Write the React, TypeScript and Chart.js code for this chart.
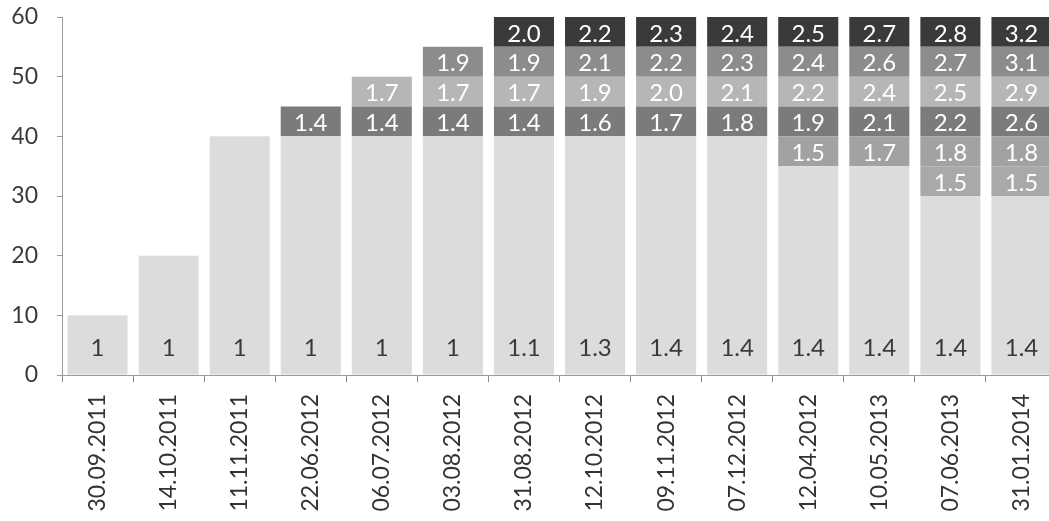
import React, { useEffect, useRef } from "react";
import { Chart, registerables } from "chart.js";

Chart.register(...registerables);

const categories = [
  "30.09.2011", "14.10.2011", "11.11.2011", "22.06.2012", "06.07.2012", "03.08.2012", "31.08.2012",
  "12.10.2012", "09.11.2012", "07.12.2012", "12.04.2012", "10.05.2013", "07.06.2013", "31.01.2014",
];

const baseHeight = [10, 20, 40, 40, 40, 40, 40, 40, 40, 40, 35, 35, 30, 30];
const baseLabel = ["1", "1", "1", "1", "1", "1", "1.1", "1.3", "1.4", "1.4", "1.4", "1.4", "1.4", "1.4"];

const band30Label = [null, null, null, null, null, null, null, null, null, null, null, null, "1.5", "1.5"];
const band35Label = [null, null, null, null, null, null, null, null, null, null, "1.5", "1.7", "1.8", "1.8"];
const band40Label = [null, null, null, "1.4", "1.4", "1.4", "1.4", "1.6", "1.7", "1.8", "1.9", "2.1", "2.2", "2.6"];
const band45Label = [null, null, null, null, "1.7", "1.7", "1.7", "1.9", "2.0", "2.1", "2.2", "2.4", "2.5", "2.9"];
const band50Label = [null, null, null, null, null, "1.9", "1.9", "2.1", "2.2", "2.3", "2.4", "2.6", "2.7", "3.1"];
const band55Label = [null, null, null, null, null, null, "2.0", "2.2", "2.3", "2.4", "2.5", "2.7", "2.8", "3.2"];

const bandHeight = 5;
const yTicks = [0, 10, 20, 30, 40, 50, 60];

const FONT = "Lato, 'Open Sans', sans-serif";

const bands = [
  { labels: band30Label, color: "#a9a9a9" },
  { labels: band35Label, color: "#a2a2a2" },
  { labels: band40Label, color: "#7b7b7b" },
  { labels: band45Label, color: "#b6b6b6" },
  { labels: band50Label, color: "#8c8c8c" },
  { labels: band55Label, color: "#3a3a3a" },
];

const labelPlugin = {
  id: "segLabels",
  afterDatasetsDraw(chart: any) {
    const ctx = chart.ctx;
    const y = chart.scales.y;
    ctx.save();
    ctx.font = `24px ${FONT}`;
    ctx.textAlign = "center";
    ctx.textBaseline = "middle";
    chart.data.datasets.forEach((ds: any, di: number) => {
      const meta = chart.getDatasetMeta(di);
      meta.data.forEach((el: any, i: number) => {
        const lab = ds.segLabels[i];
        if (lab == null || ds.data[i] == null) return;
        if (di === 0) {
          ctx.fillStyle = "#3a3a3a";
          ctx.fillText(lab, el.x, y.getPixelForValue(5) + 3);
        } else {
          ctx.fillStyle = "#ffffff";
          ctx.fillText(lab, el.x, (el.y + el.base) / 2 + 2);
        }
      });
    });
    ctx.restore();
  },
};

export default function App() {
  const ref = useRef<HTMLCanvasElement>(null);
  useEffect(() => {
    if (!ref.current) return;
    const datasets: any[] = [
      {
        label: "base",
        data: baseHeight,
        segLabels: baseLabel,
        backgroundColor: "#dcdcdf",
        stack: "s",
        barPercentage: 0.845,
        categoryPercentage: 1,
      },
      ...bands.map((b, k) => ({
        label: "band" + k,
        data: b.labels.map((l) => (l == null ? null : bandHeight)),
        segLabels: b.labels,
        backgroundColor: b.color,
        stack: "s",
        barPercentage: 0.845,
        categoryPercentage: 1,
      })),
    ];
    const chart = new Chart(ref.current, {
      type: "bar",
      data: { labels: categories, datasets },
      plugins: [labelPlugin],
      options: {
        animation: false,
        responsive: true,
        maintainAspectRatio: false,
        layout: { padding: { top: 17, right: 0, left: 0, bottom: 0 } },
        plugins: { legend: { display: false }, tooltip: { enabled: false } },
        scales: {
          x: {
            stacked: true,
            afterFit: (s: any) => { s.height = 146; s.paddingLeft = 0; s.paddingRight = 0; },
            grid: { display: true, drawOnChartArea: false, tickLength: 7, color: "#8a8a8a", offset: true },
            border: { display: true, color: "#9a9a9a", dash: [1, 1] },
            ticks: {
              autoSkip: false,
              maxRotation: 90,
              minRotation: 90,
              padding: 12,
              color: "#333333",
              font: { family: FONT, size: 23 },
            },
          },
          y: {
            stacked: true,
            min: 0,
            max: 60,
            afterFit: (s: any) => { s.width = 62; s.paddingTop = 0; s.paddingBottom = 0; },
            afterBuildTicks: (s: any) => { s.ticks = yTicks.map((v) => ({ value: v })); },
            grid: { display: true, drawOnChartArea: false, tickLength: 5, color: "#9a9a9a" },
            border: { display: true, color: "#9a9a9a", dash: [1, 1] },
            ticks: {
              padding: 19,
              color: "#3a3a3a",
              font: { family: FONT, size: 23 },
            },
          },
        },
      } as any,
    });
    return () => chart.destroy();
  }, []);
  return (
    <div style={{ position: "absolute", left: 0, top: 0, width: 1049, height: 521, overflow: "hidden", background: "#fff" }}>
      <div style={{ position: "relative", width: 1057, height: 521 }}>
        <canvas ref={ref} />
      </div>
    </div>
  );
}
